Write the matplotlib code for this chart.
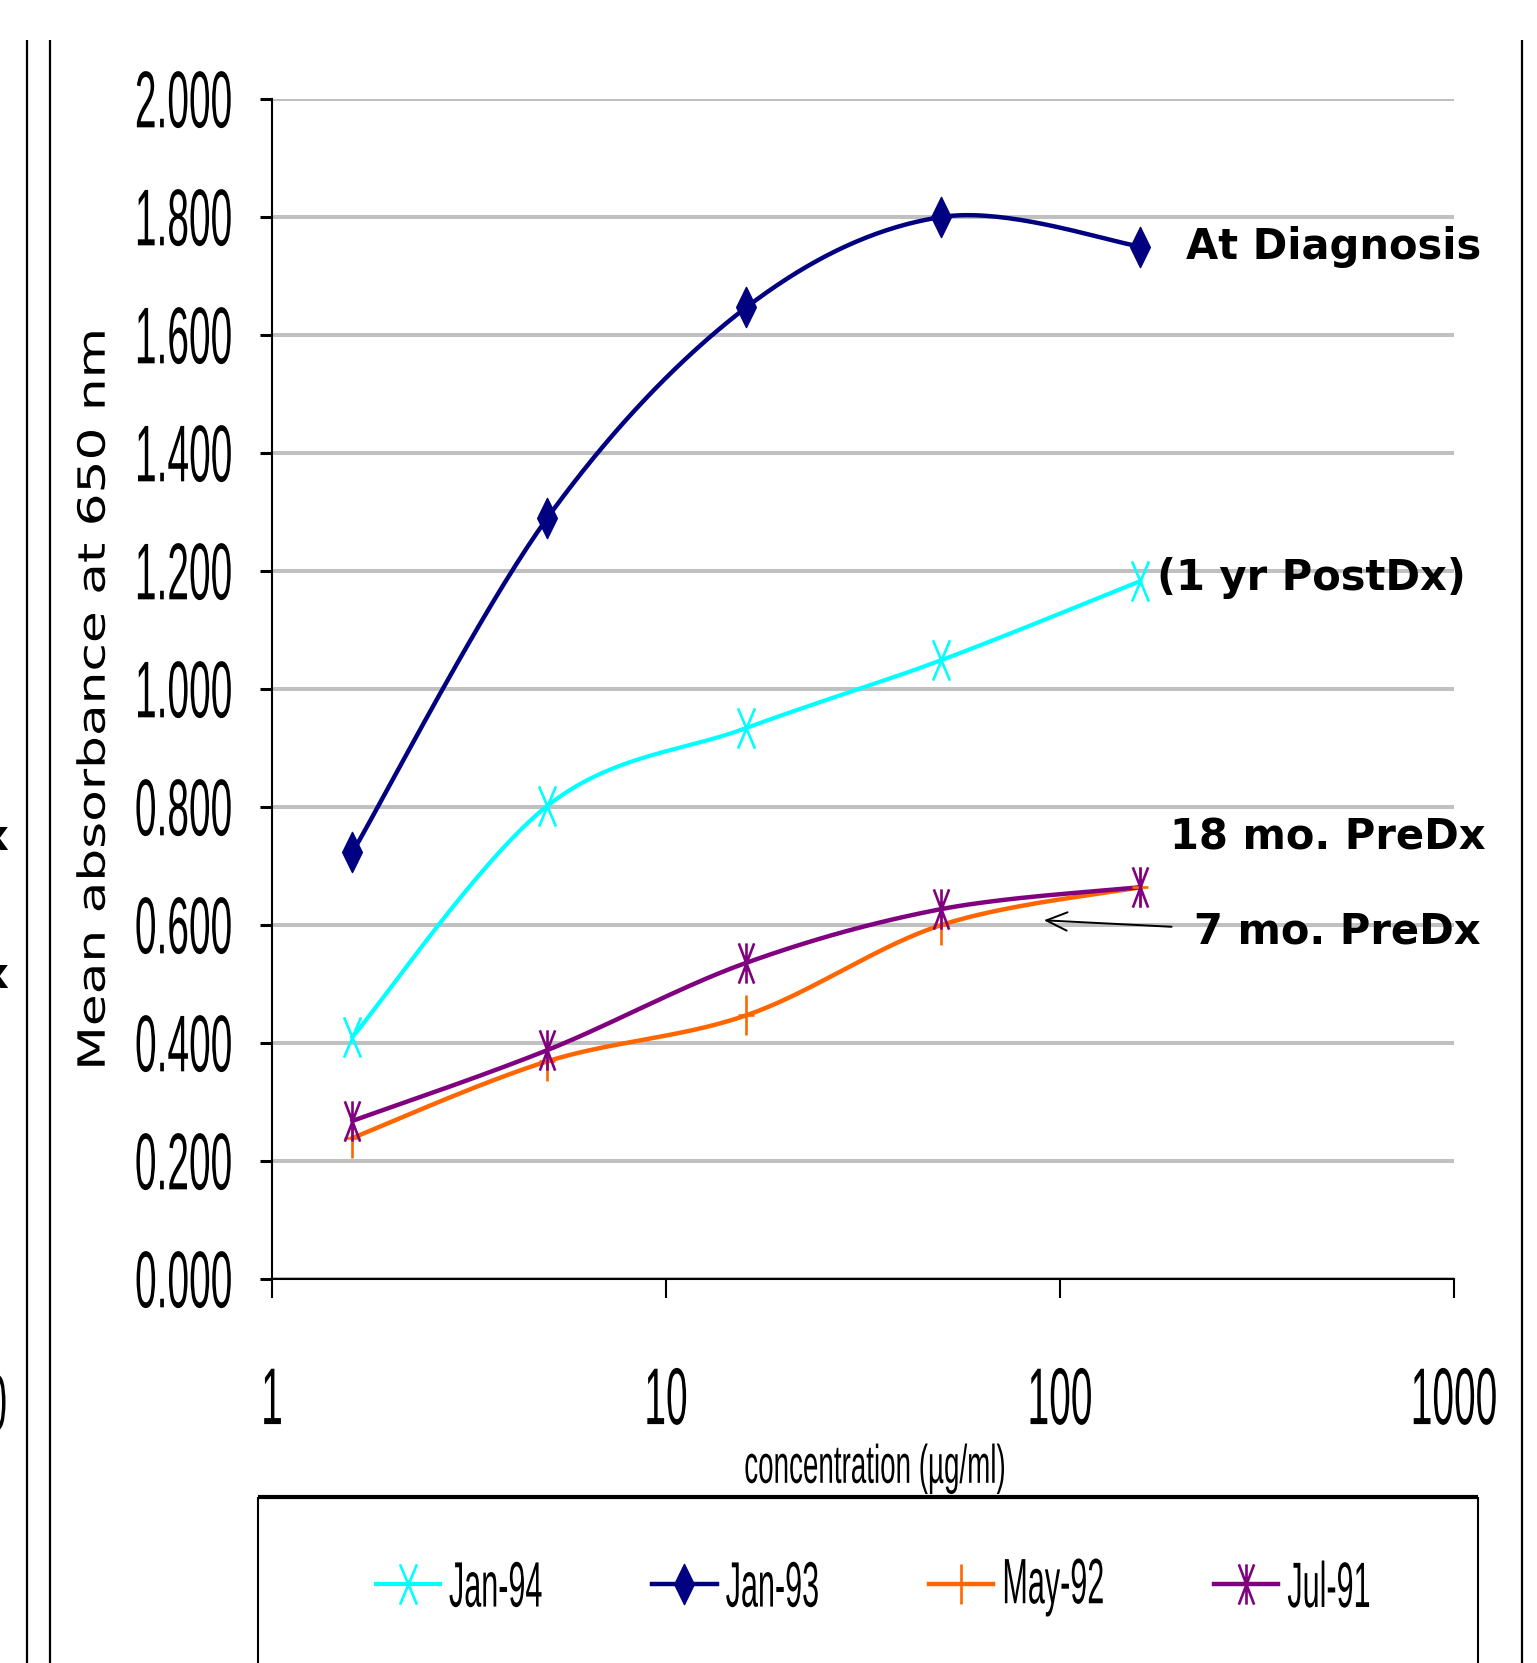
import numpy as np
import matplotlib
matplotlib.use('Agg')
import matplotlib.pyplot as plt
from matplotlib.path import Path
from matplotlib.lines import Line2D
from matplotlib.patheffects import AbstractPathEffect
from matplotlib.transforms import Affine2D

# data ---------------------------------------------------------------
conc = [1.6, 5, 16, 50, 160]
jan94 = [0.410, 0.802, 0.934, 1.049, 1.183]
jan93 = [0.723, 1.290, 1.647, 1.800, 1.750]
may92 = [0.239, 0.369, 0.447, 0.600, 0.664]
jul91 = [0.268, 0.388, 0.536, 0.627, 0.664]
series_names = ['Jan-94', 'Jan-93', 'May-92', 'Jul-91']
colors = ['#00FFFF', '#000080', '#FF6600', '#800080']
yticks = [0.0, 0.2, 0.4, 0.6, 0.8, 1.0, 1.2, 1.4, 1.6, 1.8, 2.0]
xticks = [1, 10, 100, 1000]

W, H = 1537, 1663
sans = 'Liberation Sans'
bold = 'DejaVu Sans'


class Stretch(AbstractPathEffect):
    # the source picture was stretched vertically, so glyphs are too
    def __init__(self, sx=1.0, sy=1.0):
        super().__init__()
        self.sx, self.sy = sx, sy

    def draw_path(self, renderer, gc, tpath, affine, rgbFace=None):
        bb = tpath.get_extents(affine)
        cx, cy = bb.x0 + bb.width / 2, bb.y0 + bb.height / 2
        t = affine + Affine2D().translate(-cx, -cy).scale(self.sx, self.sy).translate(cx, cy)
        renderer.draw_path(gc, tpath, t, rgbFace)


def smooth(xs, ys, n=40):
    # excel style smoothed line, done in log-x space
    P = np.column_stack([np.log10(xs), ys])
    Pe = np.vstack([P[0], P, P[-1]])
    t = np.linspace(0, 1, n)[1:, None]
    out = [P[0]]
    for i in range(len(P) - 1):
        p0, p1, p2, p3 = Pe[i], Pe[i + 1], Pe[i + 2], Pe[i + 3]
        c1 = p1 + (p2 - p0) / 6
        c2 = p2 - (p3 - p1) / 6
        seg = (1 - t)**3 * p1 + 3 * (1 - t)**2 * t * c1 + 3 * (1 - t) * t**2 * c2 + t**3 * p2
        out.extend(seg)
    out = np.array(out)
    return 10**out[:, 0], out[:, 1]


def seg_marker(segs):
    verts = []
    codes = []
    for a, b in segs:
        verts += [a, b]
        codes += [Path.MOVETO, Path.LINETO]
    return Path(verts, codes)


m_x = seg_marker([((-0.42, -1), (0.42, 1)), ((-0.42, 1), (0.42, -1))])
m_diamond = Path([(0, 1), (0.49, 0), (0, -1), (-0.49, 0), (0, 1)], closed=True)
m_plus = seg_marker([((0, -1), (0, 1)), ((-0.38, 0), (0.38, 0))])
m_star = seg_marker([((-0.38, -1), (0.38, 1)), ((-0.38, 1), (0.38, -1)), ((0, -1), (0, 1))])
markers = [m_x, m_diamond, m_plus, m_star]
lws = [3.0, 3.2, 3.2, 3.2]

fig = plt.figure(figsize=(W / 100, H / 100), dpi=100)
ax = fig.add_axes([272 / W, 1 - 1279 / H, (1454 - 272) / W, (1279 - 99) / H])

handles = []
for vals, name, c, m, lw in zip([jan94, jan93, may92, jul91], series_names, colors, markers, lws):
    sx, sy = smooth(conc, vals)
    ax.plot(sx, sy, color=c, lw=lw, zorder=3, clip_on=False)
    filled = m is m_diamond
    style = dict(marker=m, markersize=29, markerfacecolor=c if filled else 'none',
                 markeredgecolor=c, markeredgewidth=1.0 if filled else 1.9)
    ax.plot(conc, vals, linestyle='none', zorder=4, clip_on=False, **style)
    handles.append(Line2D([], [], color=c, lw=lw, **style))

ax.set_xscale('log')
ax.set_xlim(1, 1000)
ax.set_ylim(0, 2.0)
ax.set_xticks(xticks)
ax.set_xticklabels([str(v) for v in xticks])
ax.xaxis.set_minor_locator(matplotlib.ticker.NullLocator())
ax.set_yticks(yticks)
ax.set_yticklabels(['%.3f' % v for v in yticks])

tick_fx = [Stretch(1.0, 2.07)]
for lab in ax.get_xticklabels() + ax.get_yticklabels():
    lab.set_fontfamily(sans)
    lab.set_fontsize(28)
    lab.set_path_effects(tick_fx)

ax.tick_params(axis='y', direction='out', length=8.6, width=2.2, pad=20)
ax.tick_params(axis='x', direction='out', length=14, width=1.5, pad=60)

ax.yaxis.grid(True, color='#c0c0c0', lw=2.9)
ax.set_axisbelow(True)
for s in ['top', 'right']:
    ax.spines[s].set_visible(False)
for s in ['left', 'bottom']:
    ax.spines[s].set_linewidth(1.5)

ax.set_ylabel('Mean absorbance at 650 nm', fontsize=27, family='DejaVu Sans', va='center',
              path_effects=[Stretch(1.0, 1.38)])
ax.yaxis.set_label_coords(-0.150, 0.491)
ax.set_xlabel('concentration (µg/ml)', fontsize=20, family=sans, va='center',
              path_effects=[Stretch(1.0, 1.95)])
ax.xaxis.set_label_coords(0.510, -0.161)


def px(x, y):
    return x / W, 1 - y / H


# labels next to the curves
fig.text(*px(1186, 259), 'At Diagnosis', fontsize=30, weight='bold', family=bold, va='baseline')
fig.text(*px(1157, 590), '(1 yr PostDx)', fontsize=30, weight='bold', family=bold, va='baseline')
fig.text(*px(1170, 850), '18 mo. PreDx', fontsize=30, weight='bold', family=bold, va='baseline')
fig.text(*px(1194, 944), '7 mo. PreDx', fontsize=30, weight='bold', family=bold, va='baseline')
ax.annotate('', xy=(91, 0.608), xytext=(192, 0.597), xycoords='data',
            arrowprops=dict(arrowstyle='->,head_length=0.5,head_width=0.22', color='black',
                            lw=1.4, shrinkA=0, shrinkB=0, mutation_scale=30),
            annotation_clip=False)

# remnants of the neighbouring chart on the left
fig.text(*px(9, 850), 'PreDx', fontsize=30, weight='bold', family=bold, va='baseline', ha='right')
fig.text(*px(9, 987), 'PreDx', fontsize=30, weight='bold', family=bold, va='baseline', ha='right')
fig.text(*px(7, 1406), '1000', fontsize=28, family=sans, va='center', ha='right',
         path_effects=[Stretch(1.0, 2.07)])


# frame lines
def fline(x0, y0, x1, y1, lw):
    fig.add_artist(Line2D([x0 / W, x1 / W], [1 - y0 / H, 1 - y1 / H], color='black', lw=lw,
                          transform=fig.transFigure, solid_capstyle='butt'))


fline(27, 40, 27, H, 1.6)
fline(50, 40, 50, H, 1.6)
fline(1522, 40, 1522, H, 1.6)
fline(258, 1497, 1478, 1497, 3.0)
fline(258, 1497, 258, H, 1.5)
fline(1478, 1497, 1478, H, 1.5)

leg = fig.legend(handles, series_names, loc='center', bbox_to_anchor=px(873, 1587), ncol=4,
                 frameon=False, handlelength=2.1, handletextpad=0.3, columnspacing=3.6,
                 prop=dict(family=sans, size=22))
for t in leg.get_texts():
    t.set_path_effects([Stretch(1.0, 2.1)])

fig.savefig('out.png', dpi=100)
